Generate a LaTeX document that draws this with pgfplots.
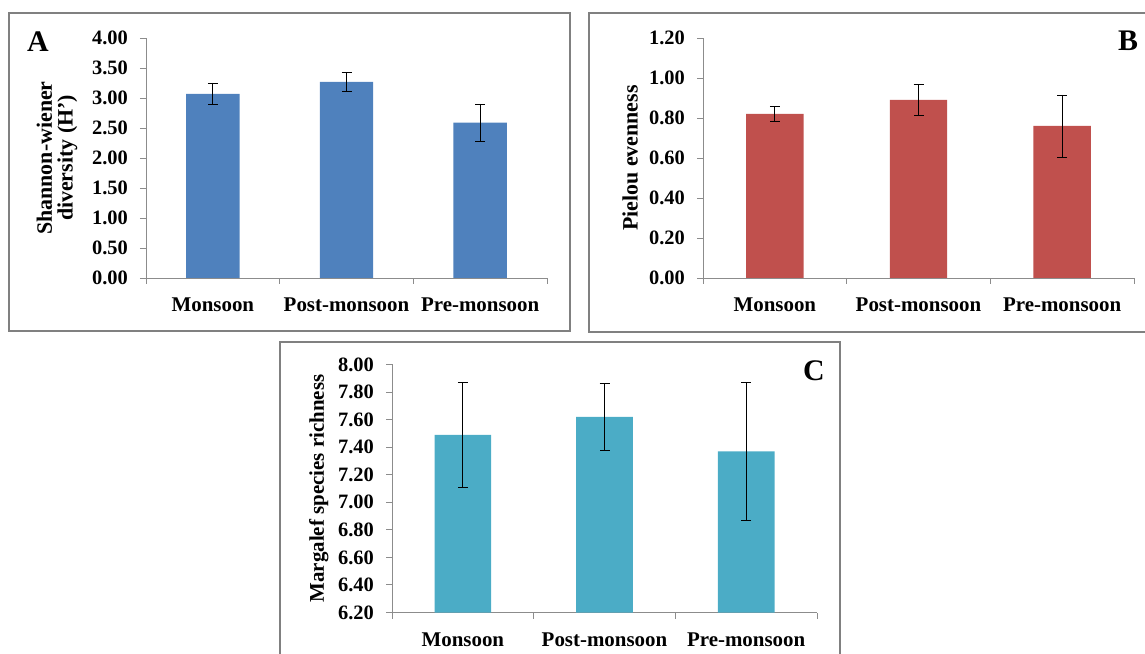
\documentclass[border=0pt]{standalone}
\usepackage{fontspec}
\setmainfont{Liberation Serif}
\usepackage{pgfplots}
\pgfplotsset{compat=1.18}
\definecolor{barA}{RGB}{79,129,189}
\definecolor{barB}{RGB}{192,80,77}
\definecolor{barC}{RGB}{75,172,198}
\definecolor{boxgray}{RGB}{128,128,128}
\definecolor{axgray}{RGB}{140,140,140}
\pgfplotsset{
  panel/.style={
    scale only axis,
    ybar,
    bar width=0.4,
    xmin=-0.5, xmax=2.5,
    xtick={-0.5,0.5,1.5,2.5},
    xticklabels={Monsoon,Post-monsoon,Pre-monsoon},
    x tick label as interval,
    axis x line*=bottom,
    axis y line*=left,
    axis line style={draw=axgray, line width=0.9bp, -},
    tick align=outside,
    major tick length=6bp,
    tick style={draw=axgray, line width=0.9bp},
    xticklabel style={font=\fontsize{21}{21}\selectfont\bfseries, anchor=base, yshift=-28bp},
    yticklabel style={font=\fontsize{20.5}{20.5}\selectfont\bfseries, inner sep=0pt, xshift=-12bp,
      /pgf/number format/.cd, fixed, fixed zerofill, precision=2, assume math mode=true},
    every axis y label/.style={rotate=90, anchor=center, align=center},
    clip=true,
  },
  errs/.style={
    draw=none,
    error bars/.cd, y dir=both, y explicit,
    error bar style={black, line width=0.9bp},
    error mark options={black, rotate=90, mark size=5bp, line width=0.9bp},
  },
}
\begin{document}
\begin{tikzpicture}
\path[use as bounding box] (0,0) rectangle (1145bp,654bp);
% panel frames
\draw[boxgray, line width=1.8bp] (9bp,641bp) rectangle (570bp,323bp);
\draw[boxgray, line width=1.8bp] (589bp,641bp) rectangle (1170bp,322bp);
\draw[boxgray, line width=1.8bp] (280bp,312bp) rectangle (840bp,-20bp);

% Panel A
\begin{axis}[panel,
  at={(146bp,376bp)}, anchor=south west,
  width=401bp, height=240bp,
  ymin=0, ymax=4, ytick={0,0.5,1,1.5,2,2.5,3,3.5,4},
  ylabel={Shannon-wiener\\diversity (H’)},
  ylabel style={at={(axis description cs:-0.222,0.5)}, font=\fontsize{22}{21}\selectfont\bfseries},
]
\addplot[fill=barA, errs] coordinates {
  (0,3.07) +- (0,0.18)
  (1,3.27) +- (0,0.16)
  (2,2.59) +- (0,0.31)
};
\end{axis}

% Panel B
\begin{axis}[panel,
  at={(703bp,376bp)}, anchor=south west,
  width=431bp, height=240bp,
  ymin=0, ymax=1.2, ytick={0,0.2,0.4,0.6,0.8,1.0,1.2},
  ylabel={Pielou evenness},
  ylabel style={at={(axis description cs:-0.169,0.5)}, font=\fontsize{22}{22}\selectfont\bfseries},
]
\addplot[fill=barB, errs] coordinates {
  (0,0.82) +- (0,0.038)
  (1,0.89) +- (0,0.078)
  (2,0.76) +- (0,0.155)
};
\end{axis}

% Panel C
\begin{axis}[panel,
  at={(392bp,41.5bp)}, anchor=south west,
  width=425bp, height=248bp,
  ymin=6.2, ymax=8.0, ytick={6.2,6.4,6.6,6.8,7.0,7.2,7.4,7.6,7.8,8.0},
  ylabel={Margalef species richness},
  ylabel style={at={(axis description cs:-0.172,0.5)}, font=\fontsize{21}{21}\selectfont\bfseries},
]
\addplot[fill=barC, errs] coordinates {
  (0,7.49) +- (0,0.38)
  (1,7.62) +- (0,0.245)
  (2,7.37) +- (0,0.50)
};
\end{axis}

% panel letters
\node[font=\fontsize{30}{30}\selectfont\bfseries] at (38bp,612bp) {A};
\node[font=\fontsize{30}{30}\selectfont\bfseries] at (1128bp,613bp) {B};
\node[font=\fontsize{30}{30}\selectfont\bfseries] at (814bp,283bp) {C};
\end{tikzpicture}
\end{document}
